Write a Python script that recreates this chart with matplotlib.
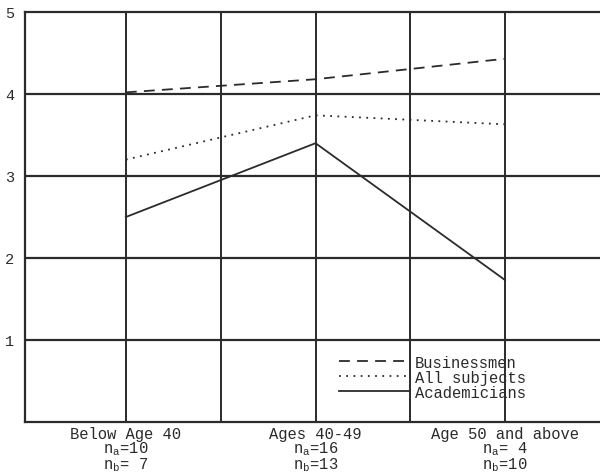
import matplotlib
matplotlib.use("Agg")
import matplotlib.pyplot as plt

categories = ["Below Age 40", "Ages 40-49", "Age 50 and above"]
n_a = ["10", "16", " 4"]
n_b = [" 7", "13", "10"]
businessmen = [4.02, 4.18, 4.43]
all_subjects = [3.20, 3.74, 3.63]
academicians = [2.50, 3.40, 1.73]
y_ticks = [1, 2, 3, 4, 5]

plt.rcParams['font.family'] = ['Liberation Mono', 'DejaVu Sans Mono']
plt.rcParams['mathtext.fontset'] = 'custom'
plt.rcParams['mathtext.rm'] = 'Liberation Mono'
plt.rcParams['mathtext.it'] = 'Liberation Mono'

ink = '#2b2b2b'
fig = plt.figure(figsize=(6.0, 4.77), dpi=100)
ax = fig.add_axes([25/600, 1-423/477, 1-25/600, (423-13)/477])

x = [1, 2, 3]
ax.plot(x, businessmen, color=ink, lw=1.3, ls=(0, (6, 4)), label='Businessmen')
ax.plot(x, all_subjects, color=ink, lw=1.3, ls=(0, (1, 3)), label='All subjects')
ax.plot(x, academicians, color=ink, lw=1.3, ls='-', label='Academicians')

ax.set_xlim(0.468, 3.5)
ax.set_ylim(0, 5)
for gx in [1, 1.5, 2, 2.5, 3]:
    ax.axvline(gx, color=ink, lw=1.4, zorder=0)
for gy in [1, 2, 3, 4]:
    ax.axhline(gy, color=ink, lw=1.6, zorder=0)

for s in ['left', 'top', 'bottom']:
    ax.spines[s].set_color(ink)
    ax.spines[s].set_linewidth(1.6)
ax.spines['right'].set_visible(False)

ax.set_yticks(y_ticks)
ax.set_yticklabels([str(v) for v in y_ticks], fontsize=11, color=ink)
ax.set_xticks(x)
labels = [f"{c}\nn$_\\mathrm{{a}}$={a}\nn$_\\mathrm{{b}}$={b}" for c, a, b in zip(categories, n_a, n_b)]
ax.set_xticklabels(labels, fontsize=11.2, color=ink, linespacing=0.85)
ax.tick_params(axis='both', length=0, pad=3)
ax.tick_params(axis='y', pad=8)

leg = ax.legend(loc='lower left', bbox_to_anchor=(0.532, 0.035), frameon=False,
                fontsize=11.2, handlelength=4.6, handletextpad=0.3,
                labelspacing=0.0, borderpad=0)
for t in leg.get_texts():
    t.set_color(ink)

fig.savefig('out.png', dpi=100)
